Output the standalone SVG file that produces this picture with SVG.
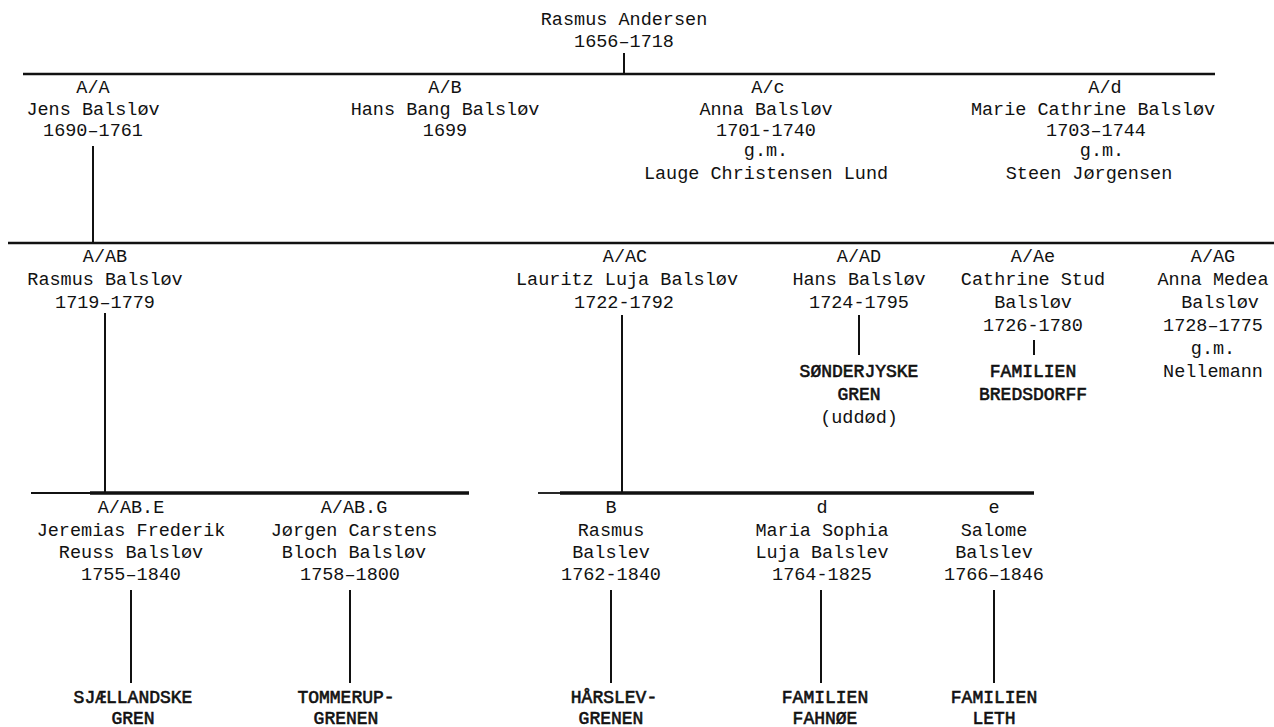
<svg xmlns="http://www.w3.org/2000/svg" width="1274" height="727" viewBox="0 0 1274 727">
<style>
text{font-family:"Liberation Mono","DejaVu Sans Mono",monospace;font-size:18.5px;fill:#111;text-anchor:middle}
.br{font-size:18px;stroke:#111;stroke-width:0.6}
.c line{stroke:#111;stroke-width:2;stroke-linecap:butt}
.c .h{stroke-width:2.6}
.c .h3{stroke-width:3.6}
.c .thin{stroke-width:1.8}
</style>
<rect width="1274" height="727" fill="#fff"/>
<g class="c" id="connectors">
<line x1="624" y1="53" x2="624" y2="73"/>
<line class="h" x1="23" y1="74" x2="1215" y2="74"/>
<line x1="93" y1="146" x2="93" y2="243"/>
<line class="h" x1="8" y1="243" x2="1274" y2="243"/>
<line x1="105" y1="313" x2="105" y2="493"/>
<line x1="622" y1="315" x2="622" y2="493"/>
<line x1="859" y1="315" x2="859" y2="355"/>
<line x1="1034" y1="340" x2="1034" y2="355"/>
<line class="thin" x1="31" y1="493" x2="90" y2="493"/>
<line class="h3" x1="90" y1="493" x2="469" y2="493"/>
<line class="thin" x1="538" y1="493" x2="560" y2="493"/>
<line class="h3" x1="560" y1="493" x2="1034" y2="493"/>
<line x1="131" y1="590" x2="131" y2="683"/>
<line x1="350" y1="590" x2="350" y2="683"/>
<line x1="611" y1="590" x2="611" y2="683"/>
<line x1="821" y1="590" x2="821" y2="683"/>
<line x1="994" y1="590" x2="994" y2="683"/>
</g>
<g id="n-rasmus-andersen"><text x="624" y="25">Rasmus Andersen</text><text x="624" y="47">1656–1718</text></g>
<g id="n-AA"><text x="93" y="93">A/A</text><text x="93" y="115">Jens Balsløv</text><text x="93" y="136">1690–1761</text></g>
<g id="n-AB1"><text x="445" y="93">A/B</text><text x="445" y="115">Hans Bang Balsløv</text><text x="445" y="136">1699</text></g>
<g id="n-Ac"><text x="768" y="93">A/c</text><text x="766" y="115">Anna Balsløv</text><text x="766" y="136">1701-1740</text><text x="766" y="156">g.m.</text><text x="766" y="179">Lauge Christensen Lund</text></g>
<g id="n-Ad"><text x="1105" y="93">A/d</text><text x="1093" y="115">Marie Cathrine Balsløv</text><text x="1096" y="136">1703–1744</text><text x="1102" y="156">g.m.</text><text x="1089" y="179">Steen Jørgensen</text></g>
<g id="n-AAB"><text x="105" y="262">A/AB</text><text x="105" y="285">Rasmus Balsløv</text><text x="105" y="308">1719–1779</text></g>
<g id="n-AAC"><text x="625" y="262">A/AC</text><text x="627" y="285">Lauritz Luja Balsløv</text><text x="624" y="308">1722-1792</text></g>
<g id="n-AAD"><text x="859" y="262">A/AD</text><text x="859" y="285">Hans Balsløv</text><text x="859" y="308">1724-1795</text><text class="br" x="859" y="377">SØNDERJYSKE</text><text class="br" x="859" y="400">GREN</text><text x="859" y="423">(uddød)</text></g>
<g id="n-AAe"><text x="1033" y="262">A/Ae</text><text x="1033" y="285">Cathrine Stud</text><text x="1033" y="308">Balsløv</text><text x="1033" y="331">1726-1780</text><text class="br" x="1033" y="377">FAMILIEN</text><text class="br" x="1033" y="400">BREDSDORFF</text></g>
<g id="n-AAG"><text x="1213" y="262">A/AG</text><text x="1213" y="285">Anna Medea</text><text x="1220" y="308">Balsløv</text><text x="1213" y="331">1728–1775</text><text x="1213" y="354">g.m.</text><text x="1213" y="377">Nellemann</text></g>
<g id="n-AABE"><text x="131" y="513">A/AB.E</text><text x="131" y="536">Jeremias Frederik</text><text x="131" y="558">Reuss Balsløv</text><text x="131" y="580">1755–1840</text><text class="br" x="133" y="703">SJÆLLANDSKE</text><text class="br" x="133" y="724">GREN</text></g>
<g id="n-AABG"><text x="354" y="513">A/AB.G</text><text x="354" y="536">Jørgen Carstens</text><text x="354" y="558">Bloch Balsløv</text><text x="350" y="580">1758–1800</text><text class="br" x="346" y="703">TOMMERUP-</text><text class="br" x="346" y="724">GRENEN</text></g>
<g id="n-B"><text x="611" y="513">B</text><text x="611" y="536">Rasmus</text><text x="611" y="558">Balslev</text><text x="611" y="580">1762-1840</text><text class="br" x="614" y="703">HÅRSLEV-</text><text class="br" x="611" y="724">GRENEN</text></g>
<g id="n-d"><text x="822" y="513">d</text><text x="822" y="536">Maria Sophia</text><text x="822" y="558">Luja Balslev</text><text x="822" y="580">1764-1825</text><text class="br" x="825" y="703">FAMILIEN</text><text class="br" x="825" y="724">FAHNØE</text></g>
<g id="n-e"><text x="994" y="513">e</text><text x="994" y="536">Salome</text><text x="994" y="558">Balslev</text><text x="994" y="580">1766–1846</text><text class="br" x="994" y="703">FAMILIEN</text><text class="br" x="994" y="724">LETH</text></g>
</svg>
